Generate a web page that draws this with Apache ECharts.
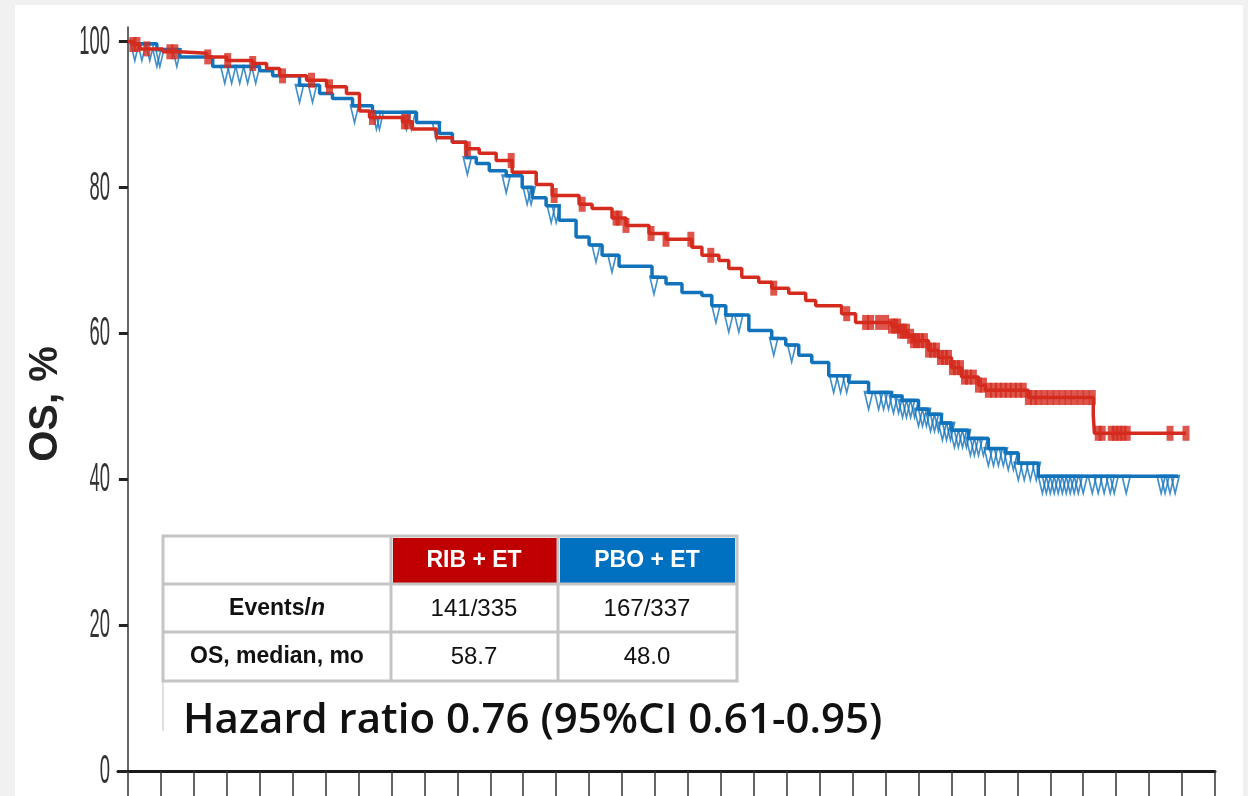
<!DOCTYPE html>
<html>
<head>
<meta charset="utf-8">
<script src="https://cdn.jsdelivr.net/npm/echarts@6/dist/echarts.min.js"></script>
<style>
  html, body { margin: 0; padding: 0; background: #f1f1f1; width: 1248px; height: 796px; overflow: hidden; }
  #chart { position: absolute; left: 15px; top: 5px; width: 1228px; height: 791px; background: #ffffff; }
</style>
</head>
<body>
<div id="chart"></div>
<script>
// ---- Data (months, OS %) ----
const rTime = [0, 0.3, 0.73, 2.12, 3.15, 4.79, 6.0, 7.58, 8.42, 9.21, 10.85, 12.06, 13.27, 14.06, 14.67, 16.67, 17.27, 18.73, 19.7, 20.55, 21.33, 22.36, 23.33, 24.79, 25.76, 27.39, 28.18, 29.39, 30.24, 31.64, 32.67, 34.24, 34.85, 35.88, 36.48, 37.27, 38.3, 39.09, 40.12, 41.15, 41.76, 43.33, 44.18, 46.36, 46.8, 47.3, 47.7, 48.61, 49.21, 50.0, 50.61, 51.64, 52.06, 54.67, 58.61, 58.68, 64.24];
const rSurv = [100, 99.6, 99.0, 98.6, 98.4, 97.9, 97.4, 97.0, 96.3, 95.3, 94.7, 93.8, 92.9, 90.5, 89.6, 89.0, 88.0, 86.8, 86.2, 85.3, 84.7, 83.7, 82.1, 80.4, 78.9, 77.7, 77.1, 75.8, 74.8, 73.7, 72.9, 71.8, 70.7, 70.0, 68.9, 67.7, 67.0, 66.2, 65.5, 64.5, 63.8, 62.7, 61.5, 61.0, 60.3, 59.6, 59.0, 57.7, 56.7, 55.3, 54.0, 52.9, 52.2, 51.2, 48.8, 46.3, 46.3];

const bTime = [0, 0.3, 1.76, 3.15, 5.15, 8.0, 8.79, 10.42, 11.64, 12.42, 13.64, 14.85, 17.52, 18.91, 19.7, 20.55, 21.15, 21.94, 22.97, 23.94, 24.55, 25.39, 26.18, 27.21, 28.0, 28.79, 29.82, 31.82, 32.67, 33.64, 34.85, 35.45, 36.3, 37.7, 39.09, 39.94, 40.73, 41.52, 42.55, 43.76, 44.97, 46.36, 47.0, 48.0, 48.61, 49.39, 50.0, 51.03, 52.24, 53.27, 54.06, 55.27, 63.76];
const bSurv = [100, 99.7, 98.9, 97.9, 96.6, 96.0, 95.3, 94.0, 92.9, 92.2, 91.2, 90.3, 88.9, 87.4, 86.2, 84.1, 83.3, 82.3, 81.6, 80.0, 78.6, 77.5, 75.5, 73.2, 72.1, 70.7, 69.2, 67.7, 66.8, 65.6, 65.2, 63.8, 62.5, 60.4, 59.3, 58.4, 57.0, 56.0, 54.2, 53.3, 51.9, 51.4, 50.8, 49.6, 48.9, 47.7, 46.7, 45.6, 44.2, 43.6, 42.2, 40.4, 40.4];

// censoring times (months)
const rCensor = [0.3, 0.55, 1.15, 2.55, 2.85, 4.85, 6.06, 7.58, 9.39, 11.15, 12.24, 14.85, 16.79, 16.97, 20.61, 23.27, 25.88, 27.58, 29.64, 29.82, 30.24, 31.76, 32.67, 34.18, 35.39, 39.21, 43.64, 44.79, 45.09, 45.58, 46.0, 46.36, 46.55, 46.73, 46.91, 47.09, 47.27, 47.52, 47.7, 47.88, 48.12, 48.36, 48.61, 48.85, 49.09, 49.33, 49.58, 49.82, 50.06, 50.3, 50.55, 50.79, 51.03, 51.33, 51.64, 51.94, 52.24, 52.55, 52.85, 53.15, 53.45, 53.76, 54.06, 54.36, 54.67, 54.97, 55.27, 55.64, 56.0, 56.36, 56.73, 57.09, 57.45, 57.82, 58.18, 58.55, 58.91, 59.15, 59.7, 59.94, 60.18, 60.42, 60.67, 63.27, 64.24];
const bCensor = [0.42, 0.85, 1.33, 1.76, 1.94, 2.97, 5.88, 6.3, 6.79, 7.27, 7.76, 10.42, 11.21, 13.76, 15.09, 15.27, 16.91, 17.21, 18.73, 20.61, 22.97, 24.24, 24.48, 25.7, 26.0, 28.42, 29.39, 31.94, 35.7, 36.48, 37.09, 39.21, 40.3, 42.85, 43.27, 43.64, 44.97, 45.58, 45.88, 46.18, 46.48, 46.79, 47.03, 47.27, 47.52, 47.76, 48.0, 48.24, 48.48, 48.73, 48.97, 49.21, 49.45, 49.7, 49.94, 50.18, 50.42, 50.67, 50.91, 51.15, 51.39, 51.64, 51.94, 52.24, 52.55, 52.85, 53.15, 53.45, 53.76, 54.06, 54.42, 54.79, 55.15, 55.52, 55.76, 56.0, 56.24, 56.48, 56.73, 56.97, 57.21, 57.45, 57.7, 58.0, 58.55, 58.91, 59.27, 59.64, 59.88, 60.61, 62.73, 62.97, 63.27, 63.58];

const xTicks = [0, 2, 4, 6, 8, 10, 12, 14, 16, 18, 20, 22, 24, 26, 28, 30, 32, 34, 36, 38, 40, 42, 44, 46, 48, 50, 52, 54, 56, 58, 60, 62, 64, 66];
const yTicks = [0, 20, 40, 60, 80, 100];
const yTickLabels = ['0', '20', '40', '60', '80', '100'];

const armNames = ['RIB + ET', 'PBO + ET'];
const rowLabels = ['Events/n', 'OS, median, mo'];
const eventsN = ['141/335', '167/337'];
const medians = ['58.7', '48.0'];
const hrText = 'Hazard ratio 0.76 (95%CI 0.61-0.95)';
const yName = 'OS, %';

// ---- helpers ----
function pairs(t, s) { return t.map((v, i) => [v, s[i]]); }
function survAt(t, s, x) {
  let v = s[0];
  for (let i = 0; i < t.length; i++) { if (t[i] <= x) v = s[i]; else break; }
  return v;
}
function censorPts(c, t, s) { return c.map(x => [x, survAt(t, s, x)]); }

const RED = '#d52b1e', BLUE = '#1273bb';
const OX = 15, OY = 5; // chart div offset on page

const chart = echarts.init(document.getElementById('chart'), null, { renderer: 'canvas' });

const tableFont = 'Liberation Sans, Arial, sans-serif';
const colX = [277 - OX, 474 - OX, 647 - OX];
const rowY = [561 - OY, 609 - OY, 657 - OY];
const border = '#c4c4c4';

const graphics = [
  { type: 'rect', z: 100, shape: { x: 163 - OX, y: 536 - OY, width: 574, height: 145 }, style: { fill: '#ffffff', stroke: border, lineWidth: 3 } },
  { type: 'rect', z: 101, shape: { x: 393 - OX, y: 538 - OY, width: 164, height: 45 }, style: { fill: '#c00000' } },
  { type: 'rect', z: 101, shape: { x: 560 - OX, y: 538 - OY, width: 175, height: 45 }, style: { fill: '#0070c0' } },
  { type: 'line', z: 102, shape: { x1: 163 - OX, y1: 584 - OY, x2: 737 - OX, y2: 584 - OY }, style: { stroke: border, lineWidth: 3 } },
  { type: 'line', z: 102, shape: { x1: 163 - OX, y1: 632 - OY, x2: 737 - OX, y2: 632 - OY }, style: { stroke: border, lineWidth: 3 } },
  { type: 'line', z: 102, shape: { x1: 391 - OX, y1: 536 - OY, x2: 391 - OX, y2: 681 - OY }, style: { stroke: border, lineWidth: 3 } },
  { type: 'line', z: 102, shape: { x1: 558 - OX, y1: 536 - OY, x2: 558 - OX, y2: 681 - OY }, style: { stroke: border, lineWidth: 3 } },
  { type: 'rect', z: 100, shape: { x: 163 - OX, y: 683 - OY, width: 740, height: 48 }, style: { fill: '#ffffff' } },
  { type: 'line', z: 102, shape: { x1: 163 - OX, y1: 682 - OY, x2: 163 - OX, y2: 731 - OY }, style: { stroke: '#d4d4d4', lineWidth: 1.5 } },
  { type: 'text', z: 103, x: 183 - OX, y: 721 - OY, style: { text: hrText, fill: '#111', font: '600 42px "Open Sans", "Noto Sans", sans-serif', verticalAlign: 'middle', align: 'left' } },
  { type: 'text', z: 103, x: colX[1], y: rowY[0], style: { text: armNames[0], fill: '#fff', font: 'bold 23px ' + tableFont, align: 'center', verticalAlign: 'middle' } },
  { type: 'text', z: 103, x: colX[2], y: rowY[0], style: { text: armNames[1], fill: '#fff', font: 'bold 23px ' + tableFont, align: 'center', verticalAlign: 'middle' } },
  { type: 'text', z: 103, x: colX[0], y: rowY[1], style: { text: '{b|' + rowLabels[0].slice(0, -1) + '}{bi|' + rowLabels[0].slice(-1) + '}', align: 'center', verticalAlign: 'middle',
      rich: { b: { font: 'bold 23px ' + tableFont, fill: '#111' }, bi: { font: 'italic bold 23px ' + tableFont, fill: '#111' } } } },
  { type: 'text', z: 103, x: colX[0], y: rowY[2], style: { text: rowLabels[1], fill: '#111', font: 'bold 23px ' + tableFont, align: 'center', verticalAlign: 'middle' } },
  { type: 'text', z: 103, x: colX[1], y: rowY[1], style: { text: eventsN[0], fill: '#111', font: '24px ' + tableFont, align: 'center', verticalAlign: 'middle' } },
  { type: 'text', z: 103, x: colX[2], y: rowY[1], style: { text: eventsN[1], fill: '#111', font: '24px ' + tableFont, align: 'center', verticalAlign: 'middle' } },
  { type: 'text', z: 103, x: colX[1], y: rowY[2], style: { text: medians[0], fill: '#111', font: '24px ' + tableFont, align: 'center', verticalAlign: 'middle' } },
  { type: 'text', z: 103, x: colX[2], y: rowY[2], style: { text: medians[1], fill: '#111', font: '24px ' + tableFont, align: 'center', verticalAlign: 'middle' } }
];

const option = {
  animation: false,
  backgroundColor: '#ffffff',
  grid: { left: 118 - OX, right: 1243 - 1215, top: 27 - OY, bottom: 796 - 771, containLabel: false, outerBoundsMode: 'none' },
  xAxis: {
    type: 'value', min: -0.6, max: 66,
    axisLine: { show: true, onZero: true, lineStyle: { color: '#1a1a1a', width: 3 } },
    axisTick: { show: true, customValues: xTicks, length: 26, inside: false, lineStyle: { color: '#333', width: 1.5 } },
    axisLabel: { show: false },
    splitLine: { show: false }
  },
  yAxis: {
    type: 'value', min: 0, max: 102,
    name: yName, nameLocation: 'middle', nameRotate: 90, nameGap: 52,
    nameTextStyle: { fontFamily: 'Liberation Sans, Arial, sans-serif', fontWeight: 'bold', fontSize: 40, color: '#222', padding: [0, 10, 0, 0] },
    axisLine: { show: true, onZero: true, lineStyle: { color: '#333', width: 1.5 } },
    axisTick: { show: true, customValues: yTicks, length: 9, lineStyle: { color: '#222', width: 3 } },
    axisLabel: { show: false },
    splitLine: { show: false }
  },
  series: [
    { name: armNames[1], type: 'line', step: 'end', data: pairs(bTime, bSurv), symbol: 'none', z: 2,
      lineStyle: { color: BLUE, width: 3.5 }, itemStyle: { color: BLUE } },
    { name: armNames[1] + ' censored', type: 'scatter', data: censorPts(bCensor, bTime, bSurv), z: 3,
      symbol: 'path://M0,0 L10,0 L5,22 Z', symbolSize: [8, 17], symbolOffset: [0, '50%'],
      itemStyle: { color: 'rgba(255,255,255,0)', borderColor: BLUE, borderWidth: 2.2 } },
    { name: armNames[0], type: 'line', step: 'end', data: pairs(rTime, rSurv), symbol: 'none', z: 4,
      lineStyle: { color: RED, width: 3.5 }, itemStyle: { color: RED } },
    { name: armNames[0] + ' censored', type: 'scatter', data: censorPts(rCensor, rTime, rSurv), z: 5,
      symbol: 'rect', symbolSize: [7, 15],
      itemStyle: { color: RED } }
  ]
};
chart.setOption(option);

// condensed y tick labels, positioned through the axis scales
const axisX = chart.convertToPixel({ xAxisIndex: 0 }, 0);
const yLabelGraphics = yTicks.map((v, i) => ({
  type: 'text', z: 50, x: axisX - 18, y: chart.convertToPixel({ yAxisIndex: 0 }, v) + 1,
  scaleX: 0.46,
  style: { text: yTickLabels[i], fill: '#333', font: '40px "Liberation Sans", Arial, sans-serif', align: 'right', verticalAlign: 'middle' }
}));
chart.setOption({ graphic: graphics.concat(yLabelGraphics) });
</script>
</body>
</html>
